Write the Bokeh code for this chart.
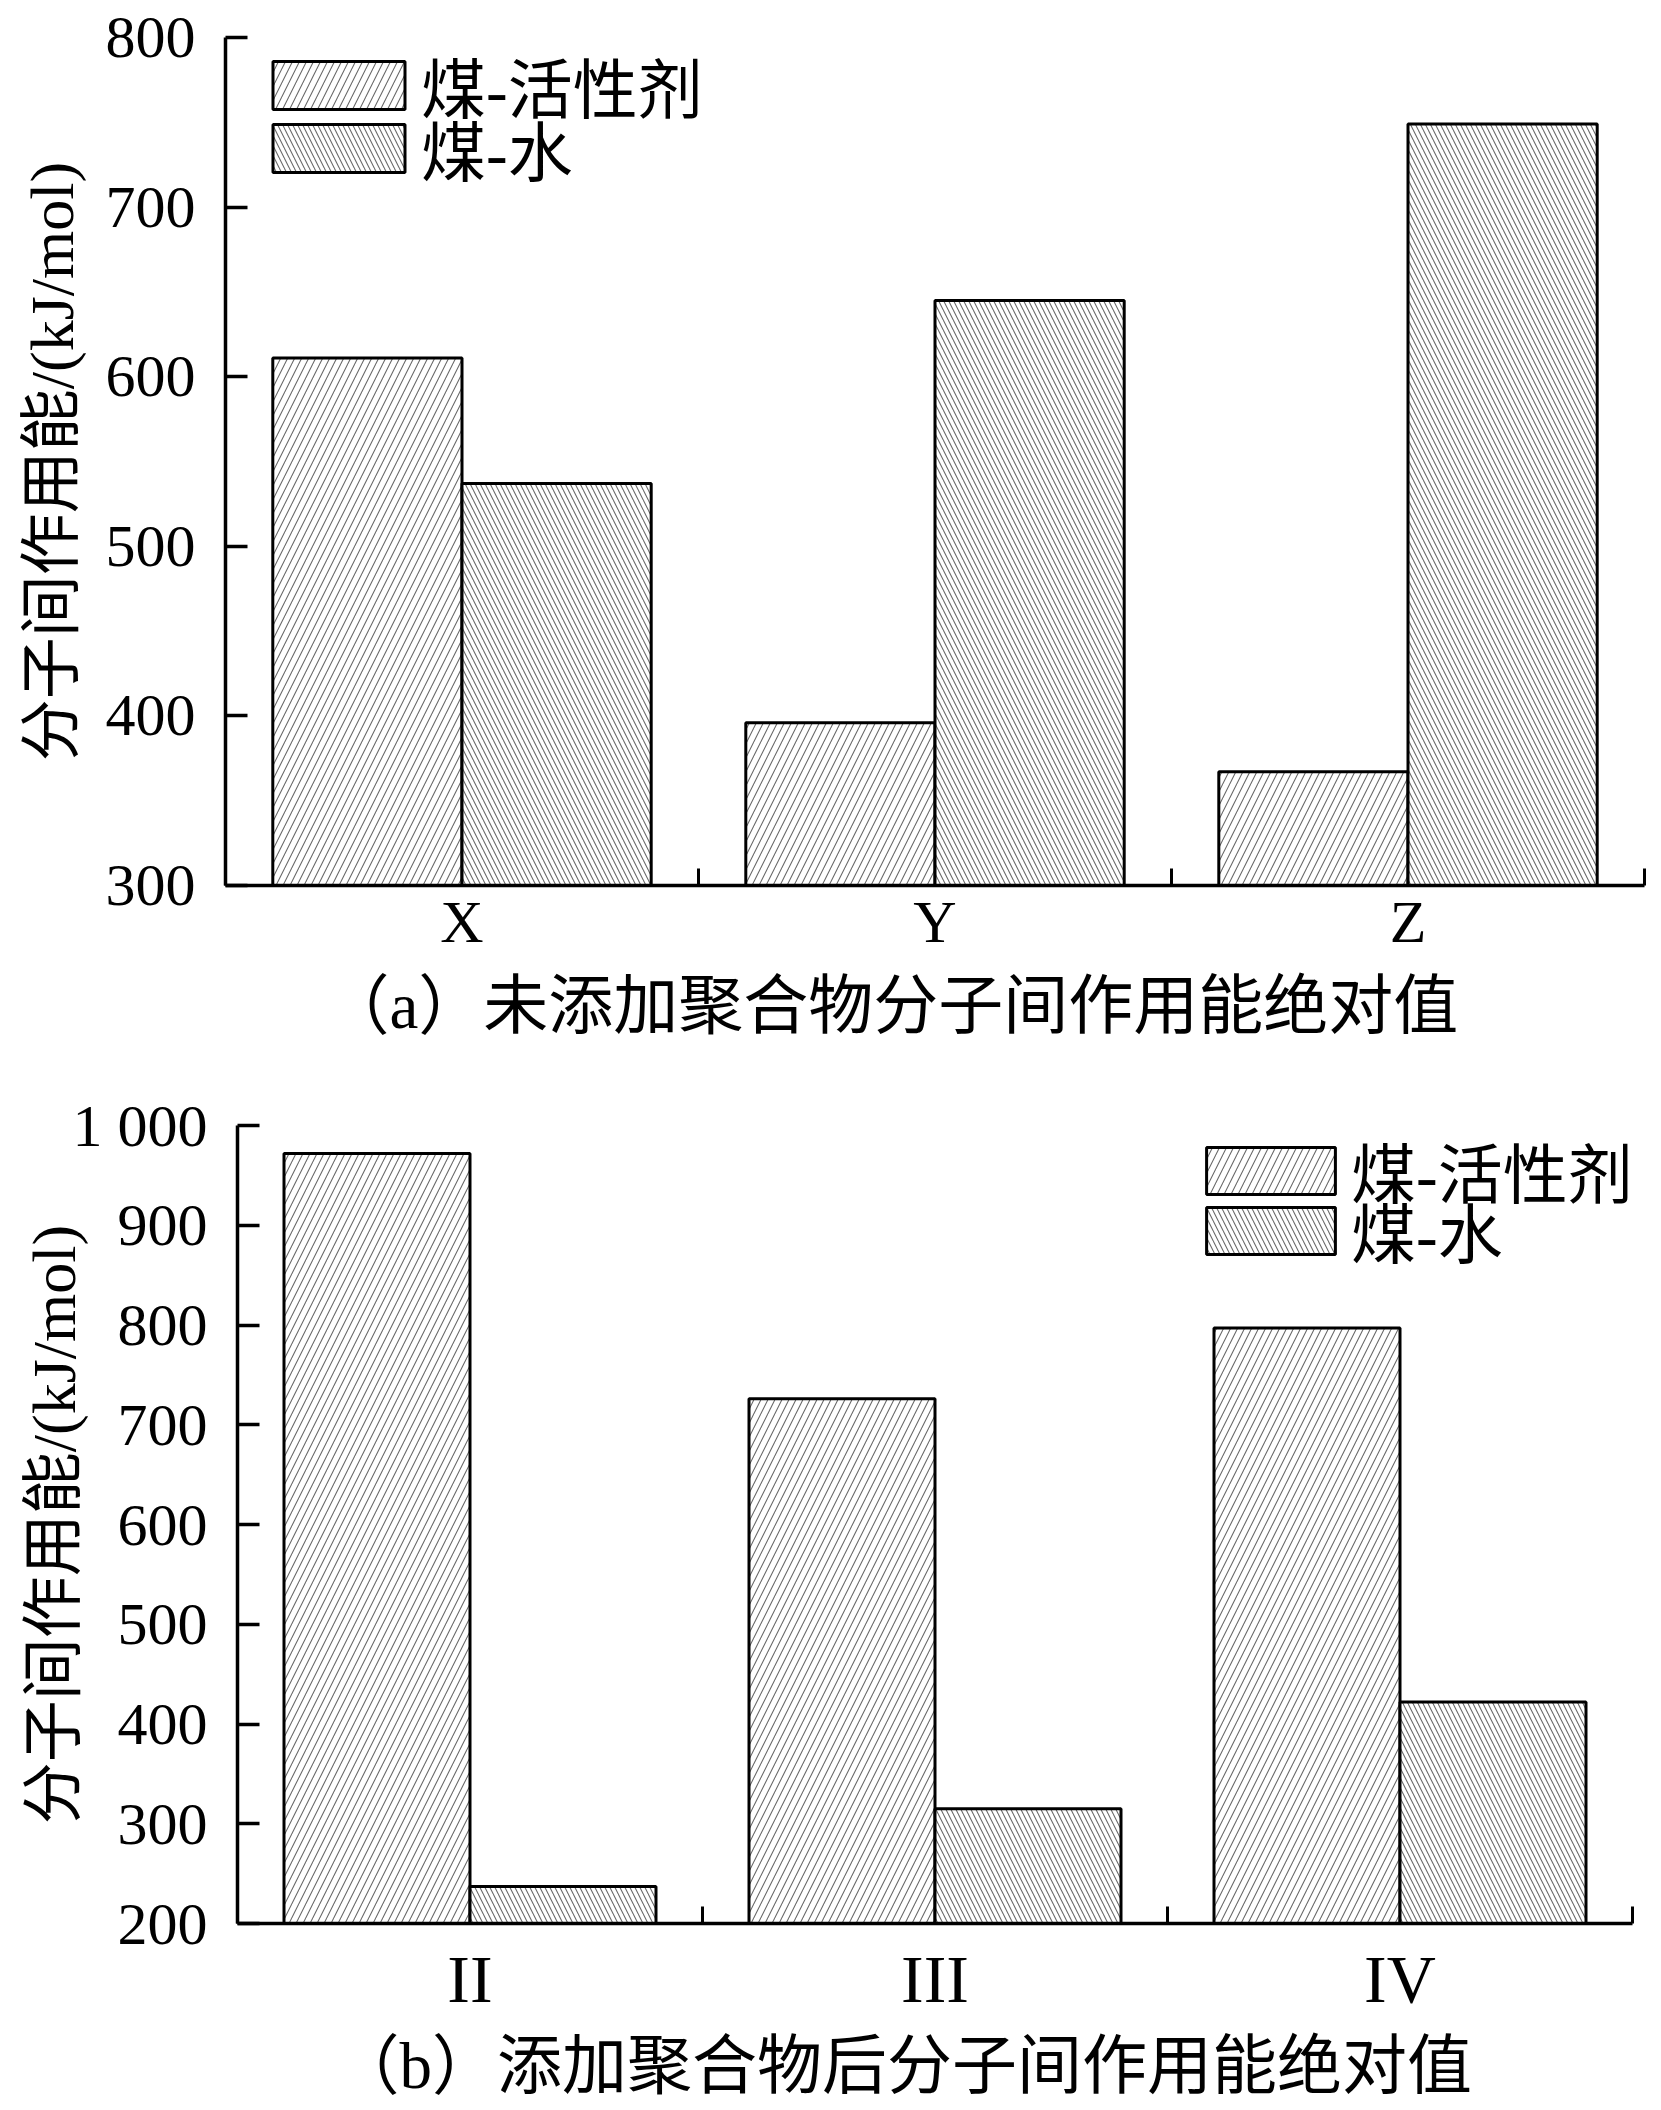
from bokeh.plotting import figure
from bokeh.models import FixedTicker, Legend, LegendItem, Range1d, Title
from bokeh.embed import file_html
from bokeh.resources import INLINE

# ---------------- data ----------------
series_names = ["煤-活性剂", "煤-水"]

cats_a = ["X", "Y", "Z"]
coal_surf_a = [611, 396, 367]
coal_water_a = [537, 645, 749]
yticks_a = [300, 400, 500, 600, 700, 800]
caption_a = "（a）未添加聚合物分子间作用能绝对值"

cats_b = ["II", "III", "IV"]
coal_surf_b = [972, 726, 797]
coal_water_b = [237, 315, 422]
yticks_b = [200, 300, 400, 500, 600, 700, 800, 900, 1000]
caption_b = "（b）添加聚合物后分子间作用能绝对值"

ylabel = "分子间作用能/(kJ/mol)"

SERIF = "'Liberation Serif', 'Noto Sans CJK SC'"


def make_panel(cats, surf, water, yticks, caption, height,
               mb_left, mb_right, mb_top, mb_bottom,
               ylab_standoff, xlab_fs, xlab_standoff,
               cap_offset, cap_standoff,
               leg_x, leg_ys, leg_gw, leg_gh, leg_standoff):
    n = len(cats)
    p = figure(width=1661, height=height, output_backend="svg",
               toolbar_location=None,
               x_range=Range1d(0, n),
               y_range=Range1d(yticks[0], yticks[-1]),
               min_border_left=mb_left, min_border_right=mb_right,
               min_border_top=mb_top, min_border_bottom=mb_bottom)
    p.xgrid.visible = False
    p.ygrid.visible = False
    p.outline_line_color = None
    p.background_fill_color = "white"

    centers = [i + 0.5 for i in range(n)]
    x1 = [c - 0.2 for c in centers]
    x2 = [c + 0.2 for c in centers]
    base = yticks[0]

    r1 = p.vbar(x=x1, top=surf, bottom=base, width=0.4,
                fill_color="white", line_color="black", line_width=3,
                hatch_pattern="/", hatch_scale=14, hatch_weight=1.1,
                hatch_color="#6a6a6a")
    r2 = p.vbar(x=x2, top=water, bottom=base, width=0.4,
                fill_color="white", line_color="black", line_width=3,
                hatch_pattern="\\", hatch_scale=10, hatch_weight=1.1,
                hatch_color="#6a6a6a")

    # y axis
    ya = p.yaxis[0]
    ya.ticker = FixedTicker(ticks=yticks, minor_ticks=[])
    ya.major_label_overrides = {t: ("1 000" if t == 1000 else str(t)) for t in yticks}
    ya.major_tick_in = 22
    ya.major_tick_out = 0
    ya.major_tick_line_width = 3.5
    ya.axis_line_width = 3.5
    ya.major_label_standoff = 30
    ya.major_label_text_font = SERIF
    ya.major_label_text_font_size = "60px"
    ya.major_label_text_color = "black"
    ya.axis_label = ylabel
    ya.axis_label_text_font = SERIF
    ya.axis_label_text_font_size = "62px"
    ya.axis_label_text_font_style = "normal"
    ya.axis_label_text_color = "black"
    ya.axis_label_standoff = ylab_standoff

    # x axis
    xa = p.xaxis[0]
    xa.ticker = FixedTicker(ticks=centers, minor_ticks=list(range(n + 1)))
    xa.major_label_overrides = {c: name for c, name in zip(centers, cats)}
    xa.major_tick_in = 0
    xa.major_tick_out = 0
    xa.minor_tick_in = 17
    xa.minor_tick_out = 0
    xa.minor_tick_line_width = 3
    xa.axis_line_width = 3.5
    xa.major_label_standoff = xlab_standoff
    xa.major_label_text_font = SERIF
    xa.major_label_text_font_size = xlab_fs
    xa.major_label_text_color = "black"

    # caption under the axis
    p.add_layout(Title(text=caption, align="left", offset=cap_offset,
                       standoff=cap_standoff,
                       text_font=SERIF, text_font_size="65px",
                       text_font_style="normal", text_color="black"), "below")

    # one legend per entry so that rows can sit close together
    for name, rend, ly in zip(series_names, [r1, r2], leg_ys):
        legend = Legend(items=[LegendItem(label=name, renderers=[rend])],
                        location=(leg_x, ly), orientation="vertical",
                        glyph_width=leg_gw, glyph_height=leg_gh,
                        label_standoff=leg_standoff,
                        spacing=0, padding=0, margin=0,
                        border_line_alpha=0, background_fill_alpha=0,
                        label_text_font=SERIF, label_text_font_size="65px",
                        label_text_baseline="alphabetic",
                        label_text_color="black")
        p.add_layout(legend)
    return p


# top panel: frame 225..1644 px
p1 = make_panel(cats_a, coal_surf_a, coal_water_a, yticks_a, caption_a,
                height=1064, mb_left=225, mb_right=17, mb_top=37, mb_bottom=179,
                ylab_standoff=17, xlab_fs="60px", xlab_standoff=3,
                cap_offset=99, cap_standoff=21,
                leg_x=31, leg_ys=[753, 690], leg_gw=165, leg_gh=60,
                leg_standoff=-4)
# bottom panel: frame 237..1632 px
p2 = make_panel(cats_b, coal_surf_b, coal_water_b, yticks_b, caption_b,
                height=1046, mb_left=237, mb_right=29, mb_top=61, mb_bottom=184,
                ylab_standoff=-18, xlab_fs="68px", xlab_standoff=17,
                cap_offset=97, cap_standoff=17,
                leg_x=953, leg_ys=[706, 646], leg_gw=161, leg_gh=59,
                leg_standoff=-4)

# two separate roots, stacked on the page, so that each keeps its own frame
open("out.html", "w").write(file_html([p1, p2], INLINE))
